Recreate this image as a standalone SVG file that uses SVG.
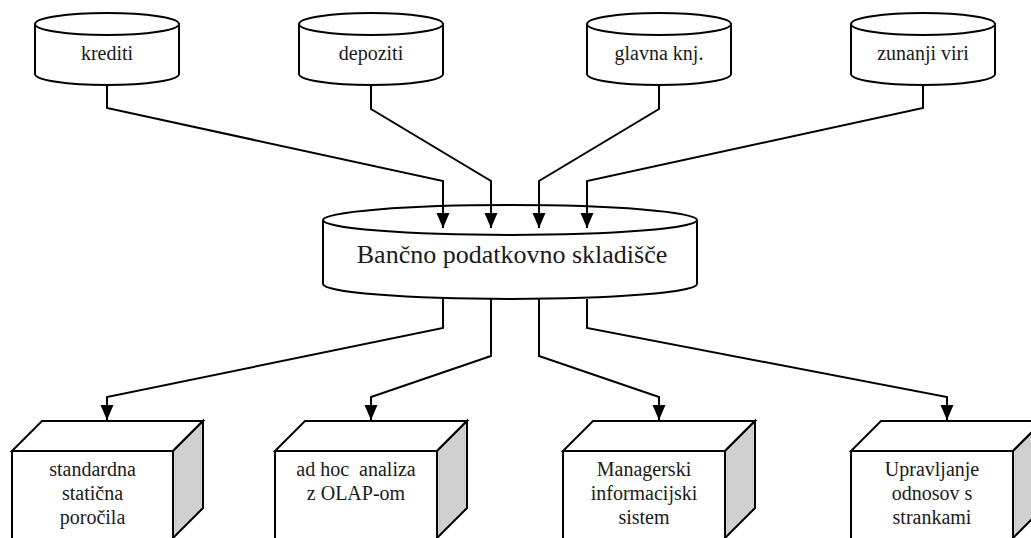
<svg xmlns="http://www.w3.org/2000/svg" width="1031" height="538" viewBox="0 0 1031 538">
  <style>
    .shape { fill: #ffffff; stroke: #000000; stroke-width: 2; }
    .side { fill: #d0d0d0; stroke: #000000; stroke-width: 2; stroke-linejoin: miter; }
    text { font-family: "Liberation Serif", "DejaVu Serif", "Times New Roman", serif; font-size: 20px; fill: #1a1a1a; text-anchor: middle; }
    .big { font-size: 26px; }
    .conn { fill: none; stroke: #000000; stroke-width: 2; marker-end: url(#arrow); }
  </style>
  <defs>
    <marker id="arrow" markerUnits="userSpaceOnUse" markerWidth="16" markerHeight="14" refX="15" refY="6.5" orient="auto">
      <path d="M0,0 L15,6.5 L0,13 z" fill="#000000"/>
    </marker>
  </defs>
  <rect width="1031" height="538" fill="#ffffff"/>

  <!-- source databases -->
  <g id="src-krediti" font-family="Liberation Serif, serif">
    <path class="shape" d="M35,24 L35,74 A72,11 0 0 0 179,74 L179,24"/>
    <ellipse class="shape" cx="107" cy="24" rx="72" ry="11"/>
    <text x="107" y="60" font-family="Liberation Serif, serif">krediti</text>
  </g>
  <g id="src-depoziti">
    <path class="shape" d="M299,24 L299,74 A72,11 0 0 0 443,74 L443,24"/>
    <ellipse class="shape" cx="371" cy="24" rx="72" ry="11"/>
    <text x="371" y="60" font-family="Liberation Serif, serif">depoziti</text>
  </g>
  <g id="src-glavna">
    <path class="shape" d="M587,24 L587,74 A72,11 0 0 0 731,74 L731,24"/>
    <ellipse class="shape" cx="659" cy="24" rx="72" ry="11"/>
    <text x="659" y="60" font-family="Liberation Serif, serif">glavna knj.</text>
  </g>
  <g id="src-zunanji">
    <path class="shape" d="M851,24 L851,74 A72,11 0 0 0 995,74 L995,24"/>
    <ellipse class="shape" cx="923" cy="24" rx="72" ry="11"/>
    <text x="923" y="60" font-family="Liberation Serif, serif">zunanji viri</text>
  </g>

  <!-- central warehouse -->
  <g id="warehouse">
    <path class="shape" d="M323,220 L323,284 A187,15 0 0 0 697,284 L697,220"/>
    <ellipse class="shape" cx="510" cy="220" rx="187" ry="15"/>
    <text class="big" x="512" y="263" font-family="Liberation Serif, serif">Bančno podatkovno skladišče</text>
  </g>

  <!-- consumers -->
  <g id="out-porocila">
    <polygon class="shape" points="12,451 42,421 203,421 173,451"/>
    <polygon class="side" points="173,451 203,421 203,508 173,538"/>
    <rect class="shape" x="12" y="451" width="161" height="88"/>
    <text x="92.5" y="476" font-family="Liberation Serif, serif">standardna</text>
    <text x="92.5" y="500" font-family="Liberation Serif, serif">statična</text>
    <text x="92.5" y="524" font-family="Liberation Serif, serif">poročila</text>
  </g>
  <g id="out-olap">
    <polygon class="shape" points="275,451 305,421 467,421 437,451"/>
    <polygon class="side" points="437,451 467,421 467,508 437,538"/>
    <rect class="shape" x="275" y="451" width="162" height="88"/>
    <text x="356" y="476" xml:space="preserve" font-family="Liberation Serif, serif">ad hoc  analiza</text>
    <text x="356" y="500" font-family="Liberation Serif, serif">z OLAP-om</text>
  </g>
  <g id="out-mis">
    <polygon class="shape" points="563,451 593,421 755,421 725,451"/>
    <polygon class="side" points="725,451 755,421 755,508 725,538"/>
    <rect class="shape" x="563" y="451" width="162" height="88"/>
    <text x="644" y="476" font-family="Liberation Serif, serif">Managerski</text>
    <text x="644" y="500" font-family="Liberation Serif, serif">informacijski</text>
    <text x="644" y="524" font-family="Liberation Serif, serif">sistem</text>
  </g>
  <g id="out-crm">
    <polygon class="shape" points="851,451 881,421 1043,421 1013,451"/>
    <polygon class="side" points="1013,451 1043,421 1043,508 1013,538"/>
    <rect class="shape" x="851" y="451" width="162" height="88"/>
    <text x="932" y="476" font-family="Liberation Serif, serif">Upravljanje</text>
    <text x="932" y="500" font-family="Liberation Serif, serif">odnosov s</text>
    <text x="932" y="524" font-family="Liberation Serif, serif">strankami</text>
  </g>

  <!-- connectors -->
  <g id="connectors">
    <path class="conn" d="M107,85 L107,108 L443,181 L443,228"/>
    <path class="conn" d="M371,85 L371,109 L491,181 L491,228"/>
    <path class="conn" d="M659,85 L659,109 L539,181 L539,228"/>
    <path class="conn" d="M923,85 L923,108 L587,181 L587,228"/>
    <path class="conn" d="M443,299 L443,328 L107,397 L107,420"/>
    <path class="conn" d="M491,299 L491,356 L371,397 L371,420"/>
    <path class="conn" d="M539,299 L539,356 L659,397 L659,420"/>
    <path class="conn" d="M587,299 L587,328 L947,397 L947,420"/>
  </g>
</svg>
